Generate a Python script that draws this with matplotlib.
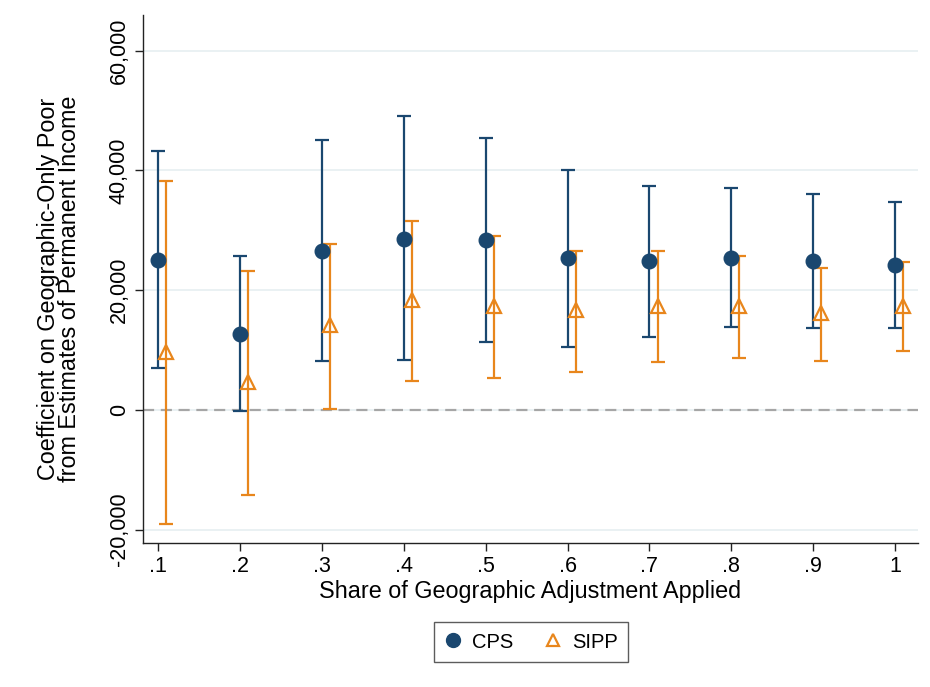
import matplotlib
matplotlib.use("Agg")
import matplotlib.pyplot as plt
from matplotlib.lines import Line2D
import numpy as np

plt.rcParams['font.family'] = ['Liberation Sans', 'DejaVu Sans']

shares = [0.1, 0.2, 0.3, 0.4, 0.5, 0.6, 0.7, 0.8, 0.9, 1.0]
xtick_labels = ['.1', '.2', '.3', '.4', '.5', '.6', '.7', '.8', '.9', '1']

cps_coef = [25100, 12690, 26610, 28610, 28330, 25320, 24820, 25440, 24880, 24160]
cps_hi   = [43300, 25660, 45140, 49030, 45470, 40070, 37340, 37060, 36060, 34670]
cps_lo   = [6960, -220, 8130, 8300, 11250, 10520, 12250, 13800, 13690, 13690]

sipp_coef = [9680, 4670, 14140, 18430, 17310, 16640, 17360, 17430, 16140, 17430]
sipp_hi   = [38180, 23270, 27780, 31620, 29000, 26610, 26490, 25780, 23650, 24660]
sipp_lo   = [-19030, -14240, 70, 4900, 5290, 6290, 7910, 8630, 8080, 9750]

yticks = [-20000, 0, 20000, 40000, 60000]
ytick_labels = ['-20,000', '0', '20,000', '40,000', '60,000']

navy = '#1a476f'
orange = '#e8861c'

fig = plt.figure(figsize=(9.3, 6.87), dpi=100)
ax = fig.add_axes([0.1538, 0.2096, 0.833, 0.768])

x = np.array(shares)
xs = x + 0.0098

cps_c = np.array(cps_coef); sipp_c = np.array(sipp_coef)
ax.errorbar(x, cps_c, yerr=[cps_c - np.array(cps_lo), np.array(cps_hi) - cps_c],
            fmt='none', ecolor=navy, elinewidth=1.6, capsize=5, capthick=1.6, zorder=3)
ax.errorbar(xs, sipp_c, yerr=[sipp_c - np.array(sipp_lo), np.array(sipp_hi) - sipp_c],
            fmt='none', ecolor=orange, elinewidth=1.6, capsize=5, capthick=1.6, zorder=3)
ax.plot(x, cps_c, 'o', color=navy, markersize=10.5, zorder=4, linestyle='none')
ax.plot(xs, sipp_c, '^', markerfacecolor='none', markeredgecolor=orange,
        markeredgewidth=1.6, markersize=9.5, zorder=4, linestyle='none')

ax.axhline(0, color='#a6a6a6', linestyle=(0, (5, 3)), linewidth=1.6, zorder=2)

ax.set_xlim(0.0817, 1.0275)
ax.set_ylim(-22250, 65900)
ax.set_xticks(shares)
ax.set_xticklabels(xtick_labels, fontsize=15.5)
ax.set_yticks(yticks)
ax.set_yticklabels(ytick_labels, fontsize=15.5, rotation=90, va='center')
ax.yaxis.grid(True, color='#e6eff1', linewidth=1.2, zorder=0)
ax.set_axisbelow(True)

for s in ['top', 'right']:
    ax.spines[s].set_visible(False)
for s in ['left', 'bottom']:
    ax.spines[s].set_linewidth(1.0)
    ax.spines[s].set_color('#222222')
ax.tick_params(axis='both', direction='out', length=6, width=1.0, colors='#222222', labelcolor='black')

ax.set_xlabel('Share of Geographic Adjustment Applied', fontsize=16.8, labelpad=2)
ax.set_ylabel('Coefficient on Geographic-Only Poor\nfrom Estimates of Permanent Income',
              fontsize=16.8, linespacing=0.92)
ax.yaxis.set_label_coords(-0.0795, 0.482)

handles = [
    Line2D([], [], marker='o', color=navy, linestyle='none', markersize=10),
    Line2D([], [], marker='^', markerfacecolor='none', markeredgecolor=orange,
           markeredgewidth=1.6, linestyle='none', markersize=9),
]
leg = fig.legend(handles, ['CPS', 'SIPP'], loc='center', bbox_to_anchor=(0.571, 0.0655),
                 ncol=2, frameon=True, fontsize=14.5, fancybox=False, edgecolor='#333333',
                 handletextpad=0.5, columnspacing=1.5, borderpad=0.5, borderaxespad=0,
                 handlelength=0.9)
leg.get_frame().set_linewidth(1.0)

fig.savefig('out.png', dpi=100)
